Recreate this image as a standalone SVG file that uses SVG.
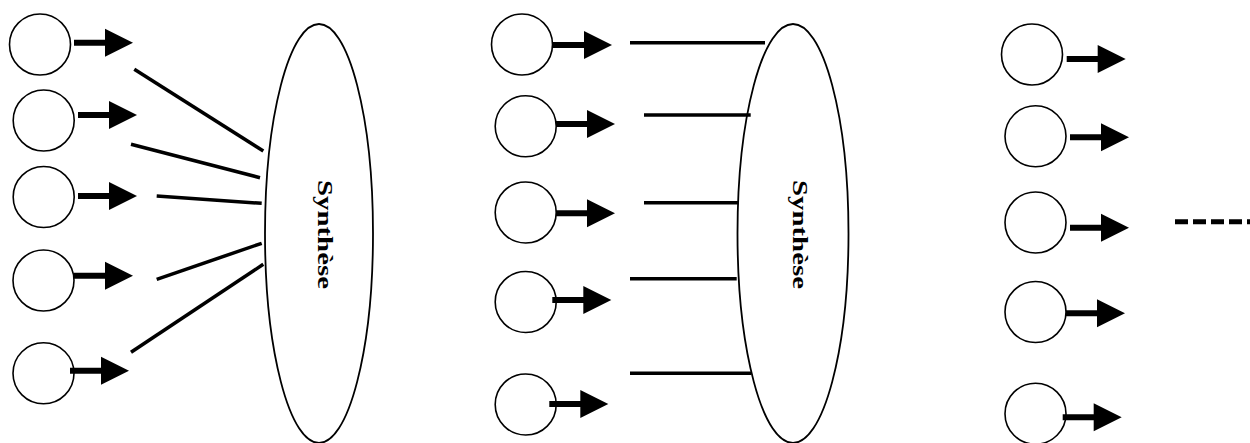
<svg xmlns="http://www.w3.org/2000/svg" width="1250" height="443" viewBox="0 0 1250 443">
  <style>
    .unit { fill: #fff; stroke: #000; stroke-width: 1.6; }
    .pool { fill: none; stroke: #000; stroke-width: 1.8; }
    .label { font-family: "Liberation Serif", "Times New Roman", serif; font-weight: bold; font-size: 22px; fill: #000; }
    .link { stroke: #000; stroke-width: 3.5; fill: none; }
    .more { stroke: #000; stroke-width: 5; stroke-dasharray: 13 5; fill: none; }
  </style>
  <defs>
    <!-- output arrow: thick shaft plus solid triangular head -->
    <g id="out-arrow">
      <line x1="0" y1="0" x2="33" y2="0" stroke="#000" stroke-width="6"/>
      <polygon points="31,-14 59,0 31,14" fill="#000"/>
    </g>
  </defs>

  <rect width="1250" height="443" fill="#fff"/>

  <!-- first column of units -->
  <g id="a1"><circle class="unit" cx="40" cy="44.5" r="30.5"/></g>
  <g id="a2"><circle class="unit" cx="43.7" cy="120.5" r="30.5"/></g>
  <g id="a3"><circle class="unit" cx="43.7" cy="197" r="30.5"/></g>
  <g id="a4"><circle class="unit" cx="43.5" cy="280.5" r="30.5"/></g>
  <g id="a5"><circle class="unit" cx="43.5" cy="373.3" r="30.5"/></g>

  <!-- first synthesis ellipse -->
  <g id="synthese1">
    <ellipse class="pool" cx="319" cy="233.5" rx="54" ry="209.5"/>
    <text class="label" transform="translate(317.8,180) rotate(90)" x="0" y="0" textLength="109" lengthAdjust="spacingAndGlyphs">Synthèse</text>
  </g>

  <!-- second column of units -->
  <g id="b1"><circle class="unit" cx="522" cy="44.5" r="30.5"/></g>
  <g id="b2"><circle class="unit" cx="525.7" cy="126.3" r="30.5"/></g>
  <g id="b3"><circle class="unit" cx="525.7" cy="212.5" r="30.5"/></g>
  <g id="b4"><circle class="unit" cx="525.7" cy="302" r="30.5"/></g>
  <g id="b5"><circle class="unit" cx="525.7" cy="404.5" r="30.5"/></g>

  <!-- second synthesis ellipse -->
  <g id="synthese2">
    <ellipse class="pool" cx="793" cy="233.5" rx="55.5" ry="209.5"/>
    <text class="label" transform="translate(792.8,180) rotate(90)" x="0" y="0" textLength="109" lengthAdjust="spacingAndGlyphs">Synthèse</text>
  </g>

  <!-- third column of units -->
  <g id="c1"><circle class="unit" cx="1032" cy="54.5" r="30.5"/></g>
  <g id="c2"><circle class="unit" cx="1035.5" cy="136.3" r="30.5"/></g>
  <g id="c3"><circle class="unit" cx="1035.5" cy="222.5" r="30.5"/></g>
  <g id="c4"><circle class="unit" cx="1035.5" cy="312" r="30.5"/></g>
  <g id="c5"><circle class="unit" cx="1035.5" cy="413.7" r="30.5"/></g>

  <g id="connectors">
    <!-- outputs of the first column -->
    <use href="#out-arrow" transform="translate(74,42.7)"/>
    <use href="#out-arrow" transform="translate(78,115)"/>
    <use href="#out-arrow" transform="translate(78,196)"/>
    <use href="#out-arrow" transform="translate(74,275.7)"/>
    <use href="#out-arrow" transform="translate(70,370.7)"/>

    <!-- links converging on the first ellipse -->
    <line class="link" x1="134.3" y1="69.3" x2="263.3" y2="151"/>
    <line class="link" x1="131" y1="144.3" x2="260" y2="177.7"/>
    <line class="link" x1="156.7" y1="196" x2="261.7" y2="203.3"/>
    <line class="link" x1="156.7" y1="279.3" x2="261.7" y2="243.3"/>
    <line class="link" x1="131" y1="352.3" x2="263.3" y2="264.3"/>

    <!-- outputs of the second column -->
    <use href="#out-arrow" transform="translate(553,45)"/>
    <use href="#out-arrow" transform="translate(556,124)"/>
    <use href="#out-arrow" transform="translate(556,213.3)"/>
    <use href="#out-arrow" transform="translate(552.3,300)"/>
    <use href="#out-arrow" transform="translate(549.3,404)"/>

    <!-- parallel links into the second ellipse -->
    <line class="link" x1="630" y1="42.7" x2="765" y2="42.7"/>
    <line class="link" x1="644" y1="115" x2="750.7" y2="115"/>
    <line class="link" x1="644" y1="202.7" x2="738.3" y2="202.7"/>
    <line class="link" x1="630" y1="278.7" x2="736.7" y2="278.7"/>
    <line class="link" x1="630" y1="373.3" x2="751" y2="373.3"/>

    <!-- outputs of the third column -->
    <use href="#out-arrow" transform="translate(1066.7,59)"/>
    <use href="#out-arrow" transform="translate(1070,137.3)"/>
    <use href="#out-arrow" transform="translate(1070,227.7)"/>
    <use href="#out-arrow" transform="translate(1066,313.3)"/>
    <use href="#out-arrow" transform="translate(1062.7,417.3)"/>

    <!-- continuation -->
    <line class="more" x1="1175" y1="221.7" x2="1252" y2="221.7"/>
  </g>
</svg>
